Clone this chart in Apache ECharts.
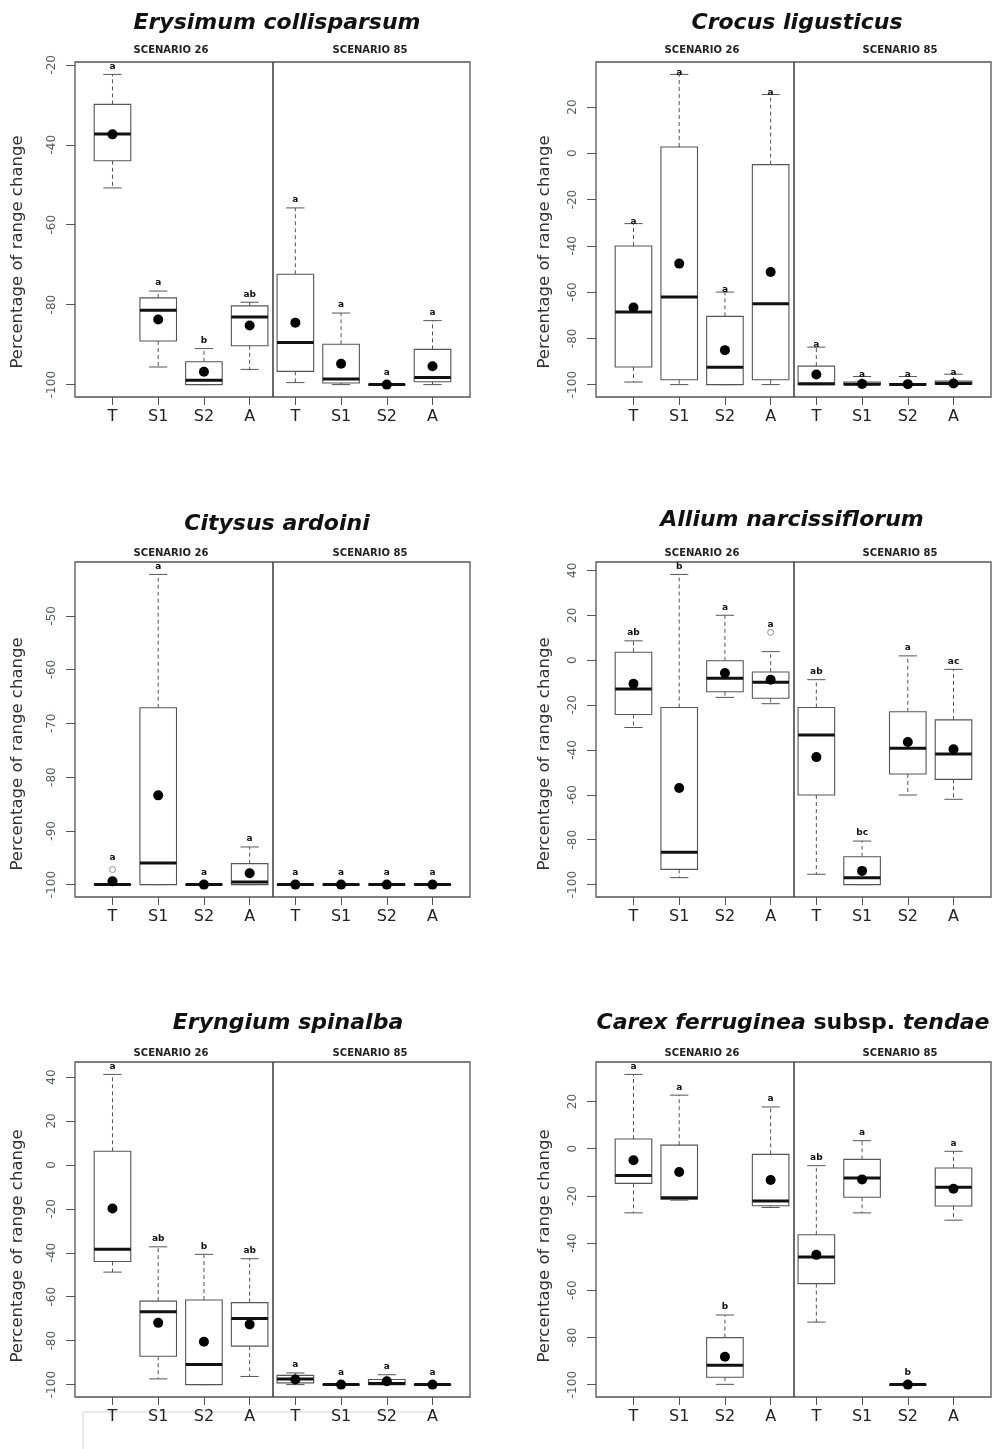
<!DOCTYPE html>
<html>
<head>
<meta charset="utf-8">
<script src="https://cdn.jsdelivr.net/npm/echarts@6/dist/echarts.min.js"></script>
<style>
  html, body { margin: 0; padding: 0; background: #fff; }
  #chart { width: 997px; height: 1449px; }
</style>
</head>
<body>
<div id="chart"></div>
<script>
// Groups along each x axis: four models under scenario 26, then the same four under scenario 85
const groups = ['T', 'S1', 'S2', 'A', 'T', 'S1', 'S2', 'A'];
const scenarios = ['SCENARIO 26', 'SCENARIO 85'];
const yTitle = 'Percentage of range change';

// Box statistics per group: [lower whisker, Q1, median, Q3, upper whisker]
const erysimumBoxes = [
  [-50.8, -44.0, -37.3, -29.9, -22.4],
  [-95.6, -89.1, -81.4, -78.3, -76.6],
  [-100, -100, -98.9, -94.3, -91.0],
  [-96.2, -90.3, -83.1, -80.3, -79.4],
  [-99.5, -96.7, -89.5, -72.4, -55.8],
  [-100, -99.6, -98.6, -89.9, -82.1],
  [-100, -100, -100, -100, -100],
  [-100, -99.3, -98.2, -91.2, -84.0]
];
const erysimumMeans = [-37.4, -83.7, -96.8, -85.2, -84.5, -94.8, -100, -95.4];
const erysimumLetters = ['a', 'a', 'b', 'ab', 'a', 'a', 'a', 'a'];
const erysimumOutliers = [];
const erysimumTicks = [-100, -80, -60, -40, -20];

const crocusBoxes = [
  [-98.9, -92.4, -68.6, -40.1, -30.4],
  [-100, -97.9, -62.1, 2.7, 34.1],
  [-100, -100, -92.5, -70.5, -60.0],
  [-100, -97.9, -65.0, -4.9, 25.4],
  [-100, -100, -99.6, -92.0, -83.8],
  [-100, -100, -99.8, -98.9, -96.5],
  [-100, -100, -100, -99.5, -96.5],
  [-100, -99.8, -99.5, -98.5, -95.5]
];
const crocusMeans = [-66.7, -47.7, -85.1, -51.3, -95.6, -99.7, -99.8, -99.5];
const crocusLetters = ['a', 'a', 'a', 'a', 'a', 'a', 'a', 'a'];
const crocusOutliers = [];
const crocusTicks = [-100, -80, -60, -40, -20, 0, 20];

const citysusBoxes = [
  [-100, -100, -100, -100, -100],
  [-100, -100, -96.0, -67.1, -42.3],
  [-100, -100, -100, -100, -100],
  [-100, -100, -99.5, -96.1, -93.0],
  [-100, -100, -100, -100, -100],
  [-100, -100, -100, -100, -100],
  [-100, -100, -100, -100, -100],
  [-100, -100, -100, -100, -100]
];
const citysusMeans = [-99.4, -83.4, -100, -97.9, -100, -100, -100, -100];
const citysusLetters = ['a', 'a', 'a', 'a', 'a', 'a', 'a', 'a'];
const citysusOutliers = [[1, -97.2]];
const citysusTicks = [-100, -90, -80, -70, -60, -50];

const alliumBoxes = [
  [-30.0, -24.2, -12.9, 3.5, 8.6],
  [-96.9, -93.2, -85.6, -21.1, 38.2],
  [-16.6, -14.1, -8.1, -0.3, 20.0],
  [-19.4, -17.0, -9.9, -5.3, 3.8],
  [-95.4, -60.1, -33.4, -21.1, -8.7],
  [-100, -100, -97.0, -87.6, -80.6],
  [-60.1, -50.7, -39.2, -23.0, 1.9],
  [-62.0, -53.1, -41.8, -26.6, -4.1]
];
const alliumMeans = [-10.5, -57.0, -5.7, -8.7, -43.2, -93.9, -36.5, -39.7];
const alliumLetters = ['ab', 'b', 'a', 'a', 'ab', 'bc', 'a', 'ac'];
const alliumOutliers = [[4, 12.4]];
const alliumTicks = [-100, -80, -60, -40, -20, 0, 20, 40];

const eryngiumBoxes = [
  [-48.8, -44.0, -38.4, 6.2, 41.2],
  [-97.4, -87.1, -66.8, -62.0, -37.3],
  [-100, -100, -90.9, -61.5, -40.7],
  [-96.3, -82.5, -69.9, -62.7, -42.7],
  [-100, -99.2, -97.5, -95.8, -94.7],
  [-100, -100, -100, -100, -100],
  [-100, -100, -99.5, -97.7, -95.5],
  [-100, -100, -100, -100, -100]
];
const eryngiumMeans = [-19.8, -71.9, -80.5, -72.6, -97.7, -100, -98.5, -100];
const eryngiumLetters = ['a', 'ab', 'b', 'ab', 'a', 'a', 'a', 'a'];
const eryngiumOutliers = [];
const eryngiumTicks = [-100, -80, -60, -40, -20, 0, 20, 40];

const carexBoxes = [
  [-27.2, -14.7, -11.4, 4.1, 31.5],
  [-21.8, -21.4, -20.8, 1.5, 22.7],
  [-99.9, -96.9, -91.8, -80.1, -70.5],
  [-24.9, -24.2, -22.2, -2.4, 17.7],
  [-73.5, -57.2, -45.9, -36.5, -7.2],
  [-27.2, -20.6, -12.4, -4.5, 3.4],
  [-100, -100, -100, -100, -100],
  [-30.3, -24.3, -16.3, -8.2, -1.1]
];
const carexMeans = [-4.9, -9.9, -88.2, -13.3, -45.0, -13.0, -100, -17.0];
const carexLetters = ['a', 'a', 'b', 'a', 'ab', 'a', 'b', 'a'];
const carexOutliers = [];
const carexTicks = [-100, -80, -60, -40, -20, 0, 20];

// Panel order: left/right, top to bottom
const panels = [
  { title: [{ t: 'Erysimum collisparsum', s: 'i' }], boxes: erysimumBoxes, means: erysimumMeans, letters: erysimumLetters, outliers: erysimumOutliers, ticks: erysimumTicks },
  { title: [{ t: 'Crocus ligusticus', s: 'i' }], boxes: crocusBoxes, means: crocusMeans, letters: crocusLetters, outliers: crocusOutliers, ticks: crocusTicks },
  { title: [{ t: 'Citysus ardoini', s: 'i' }], boxes: citysusBoxes, means: citysusMeans, letters: citysusLetters, outliers: citysusOutliers, ticks: citysusTicks },
  { title: [{ t: 'Allium narcissiflorum', s: 'i' }], boxes: alliumBoxes, means: alliumMeans, letters: alliumLetters, outliers: alliumOutliers, ticks: alliumTicks },
  { title: [{ t: 'Eryngium spinalba', s: 'i' }], boxes: eryngiumBoxes, means: eryngiumMeans, letters: eryngiumLetters, outliers: eryngiumOutliers, ticks: eryngiumTicks },
  { title: [{ t: 'Carex ferruginea', s: 'i' }, { t: ' subsp. ', s: 'n' }, { t: 'tendae', s: 'i' }], boxes: carexBoxes, means: carexMeans, letters: carexLetters, outliers: carexOutliers, ticks: carexTicks }
];

// Layout of the six plot frames
const FONT = '"DejaVu Sans", "Liberation Sans", sans-serif';
const colLeft = [75, 596];
const rowTop = [62, 562, 1062];
const FRAME_W = 395, FRAME_H = 335;
const titlePos = [[277, 23], [797, 23], [277, 524], [792, 520], [288, 1023], [793, 1023]];
const scenX = [[171, 370], [702, 900]];
const scenY = [50, 553, 1053];
const yTitleX = [18, 545];
const yTitleY = [252, 754, 1246];
const letterGap = [8, 2, 8, 8, 8, 8];

const frameColor = '#555';
const boxColor = '#555';

const grids = [], xAxes = [], yAxes = [], series = [], graphics = [];

panels.forEach((p, k) => {
  const col = k % 2, row = Math.floor(k / 2);
  grids.push({
    left: colLeft[col], top: rowTop[row], width: FRAME_W, height: FRAME_H,
    show: true, borderColor: frameColor, borderWidth: 1.3, backgroundColor: 'transparent',
    containLabel: false, outerBoundsMode: 'none'
  });

  // y range: data extent padded 4% on both sides
  const outVals = p.outliers.map(o => o[1]);
  const all = p.boxes.flat().concat(outVals);
  const lo = Math.min(...all), hi = Math.max(...all);
  const pad = (hi - lo) * 0.04;
  const positions = groups.map((g, i) => i + 1);

  xAxes.push({
    type: 'value', gridIndex: k, min: 0.18, max: 8.82, position: 'bottom',
    axisLine: { show: false, onZero: false },
    splitLine: { show: false },
    axisTick: { show: true, customValues: positions, length: 8, lineStyle: { color: '#555', width: 1 } },
    axisLabel: {
      customValues: positions, margin: 12, fontSize: 16, fontFamily: FONT, color: '#222',
      formatter: v => groups[Math.round(v) - 1] || ''
    }
  });
  yAxes.push({
    type: 'value', gridIndex: k, min: lo - pad, max: hi + pad, position: 'left',
    axisLine: { show: false, onZero: false },
    splitLine: { show: false },
    axisTick: { show: true, customValues: p.ticks, length: 9, lineStyle: { color: '#555', width: 1 } },
    axisLabel: {
      customValues: p.ticks, rotate: 90, margin: 17, fontSize: 12, fontFamily: FONT, color: '#555b66'
    }
  });

  // highest drawn point of each group (whisker or outlier), used to seat the letters
  const tops = p.boxes.map((b, i) => {
    const own = p.outliers.filter(o => o[0] === i + 1).map(o => o[1]);
    return Math.max(b[4], ...own);
  });

  series.push({
    type: 'custom', xAxisIndex: k, yAxisIndex: k,
    data: p.boxes.map((b, i) => [i + 1, ...b]),
    encode: { x: 0, y: [1, 2, 3, 4, 5] },
    silent: true,
    z: 2,
    renderItem(params, api) {
      const x = api.value(0);
      const v = [1, 2, 3, 4, 5].map(d => api.value(d));
      const px = val => api.coord([x, val]);
      const bw = api.size([0.8, 0])[0];
      const cx = px(v[2])[0];
      const yLo = px(v[0])[1], yQ1 = px(v[1])[1], yMd = px(v[2])[1], yQ3 = px(v[3])[1], yHi = px(v[4])[1];
      const idx = params.dataIndex;
      const dash = { stroke: boxColor, lineWidth: 1, lineDash: [4, 3] };
      const solid = { stroke: boxColor, lineWidth: 1 };
      const children = [
        { type: 'line', shape: { x1: cx, y1: yQ3, x2: cx, y2: yHi }, style: dash },
        { type: 'line', shape: { x1: cx, y1: yQ1, x2: cx, y2: yLo }, style: dash },
        { type: 'line', shape: { x1: cx - bw / 4, y1: yHi, x2: cx + bw / 4, y2: yHi }, style: solid },
        { type: 'line', shape: { x1: cx - bw / 4, y1: yLo, x2: cx + bw / 4, y2: yLo }, style: solid },
        { type: 'rect', shape: { x: cx - bw / 2, y: yQ3, width: bw, height: Math.max(yQ1 - yQ3, 0.01) },
          style: { fill: '#fff', stroke: boxColor, lineWidth: 1.1 } },
        { type: 'line', shape: { x1: cx - bw / 2, y1: yMd, x2: cx + bw / 2, y2: yMd },
          style: { stroke: '#111', lineWidth: 3 } }
      ];
      const flat = (v[4] - v[0]) < 0.01;
      const topY = api.coord([x, tops[idx]])[1];
      children.push({
        type: 'text', x: cx, y: topY - (flat ? letterGap[k] + 4 : letterGap[k]),
        style: {
          text: p.letters[idx], align: 'center', verticalAlign: 'middle',
          font: 'bold 9px ' + FONT, fill: '#111'
        }
      });
      return { type: 'group', children };
    }
  });

  // group means, with the scenario divider
  series.push({
    type: 'scatter', xAxisIndex: k, yAxisIndex: k,
    data: p.means.map((m, i) => [i + 1, m]),
    symbol: 'circle', symbolSize: 10, silent: true, z: 4,
    itemStyle: { color: '#000', opacity: 1 },
    markLine: {
      silent: true, symbol: ['none', 'none'], label: { show: false },
      lineStyle: { color: '#444', width: 1.6, type: 'solid' },
      data: [{ xAxis: 4.5 }]
    }
  });

  if (p.outliers.length) {
    series.push({
      type: 'scatter', xAxisIndex: k, yAxisIndex: k,
      data: p.outliers, symbol: 'circle', symbolSize: 6, silent: true, z: 4,
      itemStyle: { color: '#fff', borderColor: '#777', borderWidth: 1 }
    });
  }

  // panel title (species name in bold italic)
  const rich = {
    i: { fontFamily: FONT, fontSize: 22, fontWeight: 'bold', fontStyle: 'italic', fill: '#111' },
    n: { fontFamily: FONT, fontSize: 22, fontWeight: 'bold', fontStyle: 'normal', fill: '#111' }
  };
  graphics.push({
    type: 'text', x: titlePos[k][0], y: titlePos[k][1], silent: true,
    style: {
      text: p.title.map(s => '{' + s.s + '|' + s.t + '}').join(''),
      rich, align: 'center', verticalAlign: 'middle'
    }
  });

  scenarios.forEach((s, j) => {
    graphics.push({
      type: 'text', x: scenX[col][j], y: scenY[row], silent: true,
      style: { text: s, align: 'center', verticalAlign: 'middle', font: 'bold 10px ' + FONT, fill: '#222' }
    });
  });

  graphics.push({
    type: 'text', x: yTitleX[col], y: yTitleY[row], rotation: Math.PI / 2, silent: true,
    style: { text: yTitle, align: 'center', verticalAlign: 'middle', font: '16.5px ' + FONT, fill: '#333' }
  });
});

// faint ruled border under the bottom-left panel
graphics.push({ type: 'line', silent: true, shape: { x1: 83, y1: 1412, x2: 440, y2: 1412 }, style: { stroke: '#d4d4d4', lineWidth: 1 } });
graphics.push({ type: 'line', silent: true, shape: { x1: 83, y1: 1412, x2: 83, y2: 1449 }, style: { stroke: '#d4d4d4', lineWidth: 1 } });

const chart = echarts.init(document.getElementById('chart'), null, { renderer: 'canvas' });
chart.setOption({
  animation: false,
  backgroundColor: '#fff',
  grid: grids,
  xAxis: xAxes,
  yAxis: yAxes,
  series,
  graphic: graphics
});
</script>
</body>
</html>
